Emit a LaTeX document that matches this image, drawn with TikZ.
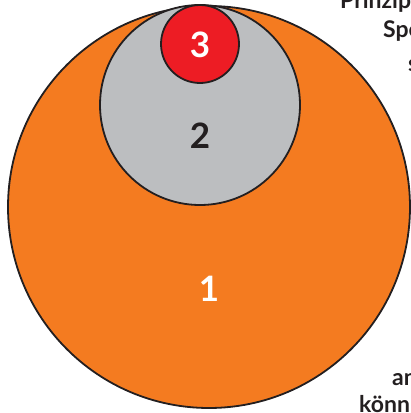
\documentclass[tikz,border=0pt]{standalone}
\usepackage{fontspec}
\setmainfont{Lato}
\usepackage{tikz}
\usetikzlibrary{positioning}
\definecolor{zoneorange}{RGB}{244,123,32}
\definecolor{zonegray}{RGB}{188,190,192}
\definecolor{zonered}{RGB}{237,28,36}
\definecolor{zoneink}{RGB}{35,31,32}

\begin{document}
\begin{tikzpicture}[x=1pt,y=-1pt,line cap=round,line join=round]
 \useasboundingbox (0,0) rectangle (411,413);
 \node[circle,draw=zoneink,fill=zoneorange,line width=1.8pt,
  minimum size=402pt,inner sep=0pt] (z1) at (209,207) {};
 \node[circle,draw=zoneink,fill=zonegray,line width=1.8pt,
  minimum size=200pt,inner sep=0pt] (z2) at (200,105) {};
 \node[circle,draw=zoneink,fill=zonered,line width=1.8pt,
  minimum size=78pt,inner sep=0pt] (z3) at (200,44) {};
 \node[font=\fontsize{35}{35}\selectfont\bfseries,white]
  (n1) at (209,289) {1};
 \node[font=\fontsize{35}{35}\selectfont\bfseries,zoneink]
  (n2) at (200,136) {2};
 \node[font=\fontsize{35}{35}\selectfont\bfseries,white]
  (n3) at (200,45) {3};
 % cut-off caption text at the right edge
 \node[font=\fontsize{23}{23}\selectfont\bfseries,zoneink,
  anchor=base west,inner sep=0pt] (t1) at (340,8) {Prinzip};
 \node[font=\fontsize{23}{23}\selectfont\bfseries,zoneink,
  anchor=base west,inner sep=0pt] (t2) at (383,37) {Spe};
 \node[font=\fontsize{23}{23}\selectfont\bfseries,zoneink,
  anchor=base west,inner sep=0pt] (t3) at (408,71) {s};
 \node[font=\fontsize{23}{23}\selectfont\bfseries,zoneink,
  anchor=base west,inner sep=0pt] (t4) at (392,385) {an};
 \node[font=\fontsize{23}{23}\selectfont\bfseries,zoneink,
  anchor=base west,inner sep=0pt] (t5) at (359,412) {könn};
\end{tikzpicture}
\end{document}
